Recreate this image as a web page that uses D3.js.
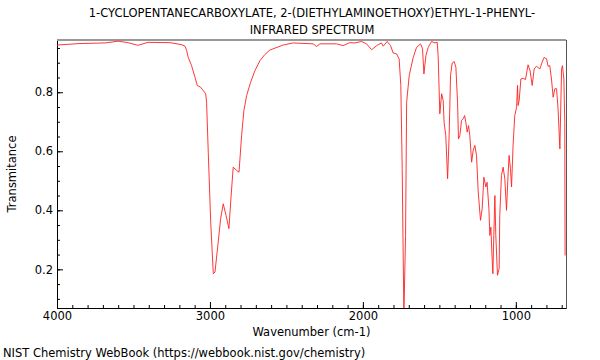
<!DOCTYPE html>
<html>
<head>
<meta charset="utf-8">
<script src="https://cdn.jsdelivr.net/npm/d3@7"></script>
<style>
  body { margin: 0; background: #fff; }
  text { font-family: "DejaVu Sans", sans-serif; }
</style>
</head>
<body>
<div id="chart"></div>
<script>
// spectrum: wavenumber (cm-1) and transmittance
var wavenumbers = [4000, 3850, 3686, 3601, 3536, 3471, 3405, 3261, 3183, 3163, 3152, 3142, 3120, 3098, 3083, 3061, 3044, 3028, 3022, 3011,
  2995, 2978, 2967, 2946, 2930, 2913, 2895, 2876, 2863, 2848, 2825, 2810, 2793, 2778, 2760, 2734, 2706, 2673, 2641, 2608,
  2521, 2456, 2325, 2303, 2281, 2172, 2129, 2085, 2052, 2008, 1976, 1943, 1910, 1878, 1867, 1841, 1819, 1802, 1780, 1763,
  1752, 1743, 1732, 1721, 1714, 1697, 1671, 1649, 1623, 1610, 1601, 1588, 1573, 1551, 1529, 1514, 1508, 1497, 1485, 1475,
  1469, 1458, 1446, 1436, 1427, 1416, 1403, 1392, 1381, 1375, 1366, 1355, 1344, 1335, 1327, 1318, 1309, 1301, 1289, 1279,
  1268, 1257, 1246, 1231, 1220, 1209, 1196, 1188, 1176, 1170, 1163, 1157, 1150, 1144, 1137, 1131, 1120, 1109, 1105, 1094,
  1083, 1072, 1061, 1050, 1044, 1035, 1028, 1018, 1007, 995, 989, 985, 978, 967, 952, 937, 920, 907, 893, 880,
  865, 843, 828, 815, 799, 789, 778, 767, 756, 745, 734, 724, 712, 701, 695, 686, 680, 678];
var transmittance = [0.960, 0.965, 0.967, 0.973, 0.968, 0.959, 0.969, 0.968, 0.961, 0.956, 0.941, 0.918, 0.890, 0.851, 0.823, 0.817, 0.806, 0.795, 0.766, 0.597,
  0.360, 0.185, 0.191, 0.292, 0.372, 0.422, 0.383, 0.338, 0.439, 0.546, 0.535, 0.529, 0.653, 0.738, 0.789, 0.834, 0.873, 0.907, 0.928, 0.943,
  0.960, 0.967, 0.964, 0.955, 0.964, 0.964, 0.958, 0.968, 0.967, 0.972, 0.964, 0.944, 0.958, 0.967, 0.956, 0.972, 0.958, 0.933, 0.930, 0.913,
  0.823, 0.542, 0.044, 0.315, 0.766, 0.857, 0.918, 0.952, 0.964, 0.947, 0.862, 0.924, 0.952, 0.972, 0.967, 0.969, 0.924, 0.727, 0.795, 0.772,
  0.698, 0.653, 0.507, 0.653, 0.857, 0.899, 0.904, 0.885, 0.766, 0.642, 0.653, 0.704, 0.710, 0.721, 0.698, 0.665, 0.687, 0.653, 0.563, 0.603,
  0.620, 0.586, 0.462, 0.366, 0.405, 0.512, 0.479, 0.495, 0.405, 0.315, 0.343, 0.259, 0.185, 0.315, 0.450, 0.315, 0.180, 0.203, 0.383, 0.518,
  0.546, 0.507, 0.400, 0.529, 0.586, 0.541, 0.479, 0.620, 0.721, 0.749, 0.823, 0.755, 0.772, 0.845, 0.847, 0.843, 0.893, 0.873, 0.823, 0.879,
  0.888, 0.879, 0.902, 0.918, 0.913, 0.888, 0.890, 0.845, 0.783, 0.812, 0.812, 0.744, 0.608, 0.879, 0.890, 0.845, 0.698, 0.247];

var xTicks = [4000, 3000, 2000, 1000];
var yTicks = [0.2, 0.4, 0.6, 0.8];
var titleLines = ["1-CYCLOPENTANECARBOXYLATE, 2-(DIETHYLAMINOETHOXY)ETHYL-1-PHENYL-", "INFRARED SPECTRUM"];

var data = wavenumbers.map((w, i) => ({ w: w, t: transmittance[i] }));

var margin = { top: 40, right: 34, bottom: 52, left: 57 },
    width = 600 - margin.left - margin.right,
    height = 360 - margin.top - margin.bottom;

var root = d3.select("#chart").append("svg")
  .attr("width", 600)
  .attr("height", 360);

var svg = root.append("g")
  .attr("transform", "translate(" + margin.left + "," + margin.top + ")");

var x = d3.scaleLinear().domain([4000, 672]).range([0, width]);
var y = d3.scaleLinear().domain([0.069, 0.977]).range([height, 0]);

root.append("defs").append("clipPath").attr("id", "clip")
  .append("rect").attr("width", width).attr("height", height);

// minor ticks first
svg.append("g")
  .attr("transform", "translate(0," + height + ")")
  .call(d3.axisBottom(x).tickValues(d3.range(700, 4001, 100)).tickSize(-3).tickFormat(""))
  .call(g => g.select(".domain").remove());
svg.append("g")
  .call(d3.axisLeft(y).tickValues(d3.range(0.1, 0.96, 0.05)).tickSize(-3).tickFormat(""))
  .call(g => g.select(".domain").remove());

// major ticks
var xAxis = svg.append("g")
  .attr("transform", "translate(0," + height + ")")
  .call(d3.axisBottom(x).tickValues(xTicks).tickSize(-6).tickPadding(4).tickFormat(d3.format("d")));
var yAxis = svg.append("g")
  .call(d3.axisLeft(y).tickValues(yTicks).tickSize(-6).tickPadding(4).tickFormat(d3.format(".1f")));

[xAxis, yAxis].forEach(function(a) {
  a.selectAll("text").style("font-size", "11.5px").attr("fill", "#000");
  a.select(".domain").attr("stroke", "#000");
});

// frame top and right
svg.append("line").attr("x1", 0).attr("x2", width).attr("y1", 0).attr("y2", 0)
  .attr("stroke", "#999").attr("stroke-width", 2);
svg.append("line").attr("x1", width + 0.5).attr("x2", width + 0.5).attr("y1", 0).attr("y2", height)
  .attr("stroke", "#555").attr("stroke-width", 1);

var line = d3.line().x(d => x(d.w)).y(d => y(d.t));

svg.append("path")
  .datum(data)
  .attr("clip-path", "url(#clip)")
  .attr("fill", "none")
  .attr("stroke", "#ff2020")
  .attr("stroke-width", 0.9)
  .attr("stroke-linejoin", "round")
  .attr("d", line);

// titles and labels
root.selectAll(".title")
  .data(titleLines)
  .enter().append("text")
  .attr("x", 312)
  .attr("y", (d, i) => 17 + i * 17)
  .attr("text-anchor", "middle")
  .style("font-size", "11.5px")
  .text(d => d);

root.append("text")
  .attr("x", margin.left + width / 2)
  .attr("y", 336)
  .attr("text-anchor", "middle")
  .style("font-size", "11.5px")
  .text("Wavenumber (cm-1)");

root.append("text")
  .attr("transform", "rotate(-90)")
  .attr("x", -174)
  .attr("y", 16)
  .attr("text-anchor", "middle")
  .style("font-size", "11.5px")
  .text("Transmitance");

root.append("text")
  .attr("x", 3)
  .attr("y", 357)
  .style("font-size", "11.5px")
  .text("NIST Chemistry WebBook (https://webbook.nist.gov/chemistry)");
</script>
</body>
</html>
